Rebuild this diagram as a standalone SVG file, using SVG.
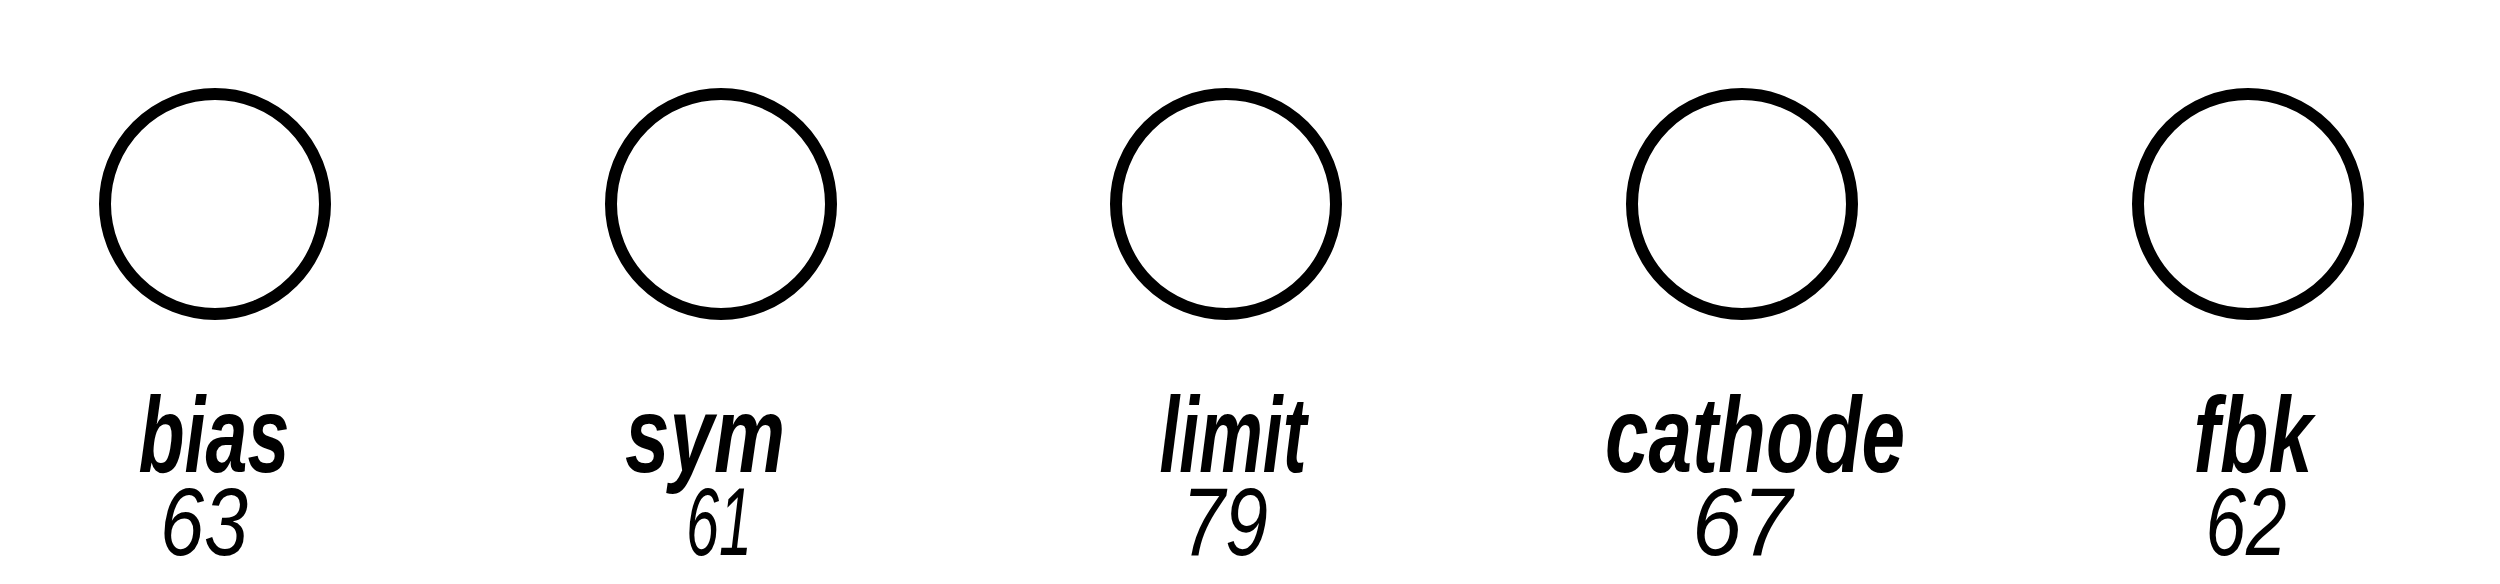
<svg xmlns="http://www.w3.org/2000/svg" width="2500" height="584" viewBox="0 0 2500 584">
<style>
.knob{fill:none;stroke:#000;stroke-width:12}
.lbl{font-family:"Liberation Sans","DejaVu Sans",Arial,sans-serif;font-style:italic;font-weight:bold;font-size:108px;fill:#000;text-anchor:middle}
.num{font-family:"Liberation Sans","DejaVu Sans",Arial,sans-serif;font-style:italic;font-weight:normal;font-size:96px;fill:#000;text-anchor:middle}
</style>
<rect width="2500" height="584" fill="#fff"/>
<g id="connectors"/>
<g id="bias">
<circle class="knob" cx="215" cy="204" r="110"/>
<text class="lbl" x="214" y="472" textLength="151" lengthAdjust="spacingAndGlyphs">bias</text>
<text class="num" x="204" y="555" textLength="88" lengthAdjust="spacingAndGlyphs">63</text>
</g>
<g id="sym">
<circle class="knob" cx="721" cy="204" r="110"/>
<text class="lbl" x="705" y="472" textLength="160" lengthAdjust="spacingAndGlyphs">sym</text>
<text class="num" x="719" y="555" textLength="66" lengthAdjust="spacingAndGlyphs">61</text>
</g>
<g id="limit">
<circle class="knob" cx="1226" cy="204" r="110"/>
<text class="lbl" x="1233" y="472" textLength="147" lengthAdjust="spacingAndGlyphs">limit</text>
<text class="num" x="1225" y="555" textLength="86" lengthAdjust="spacingAndGlyphs">79</text>
</g>
<g id="cathode">
<circle class="knob" cx="1742" cy="204" r="110"/>
<text class="lbl" x="1755" y="472" textLength="300" lengthAdjust="spacingAndGlyphs">cathode</text>
<text class="num" x="1742" y="555" textLength="100" lengthAdjust="spacingAndGlyphs">67</text>
</g>
<g id="fbk">
<circle class="knob" cx="2248" cy="204" r="110"/>
<text class="lbl" x="2253" y="472" textLength="119" lengthAdjust="spacingAndGlyphs">fbk</text>
<text class="num" x="2246" y="555" textLength="81" lengthAdjust="spacingAndGlyphs">62</text>
</g>
</svg>
